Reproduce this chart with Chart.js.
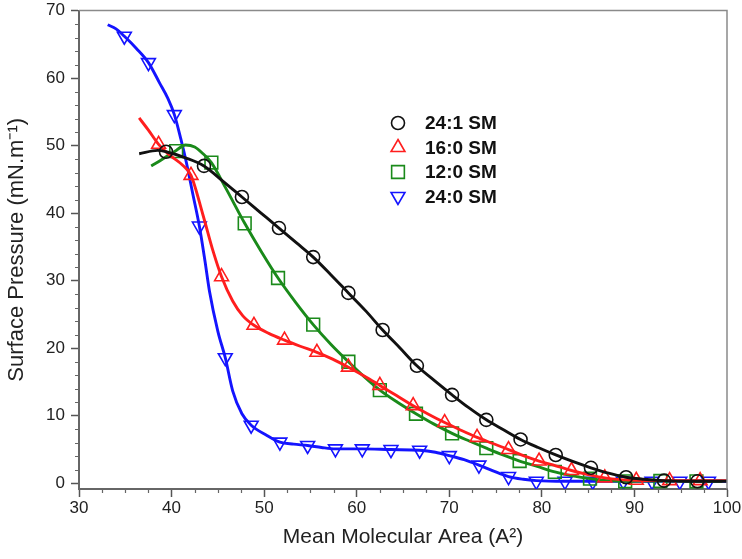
<!DOCTYPE html>
<html>
<head>
<meta charset="utf-8">
<script src="https://cdn.jsdelivr.net/npm/chart.js@4.4.1/dist/chart.umd.min.js"></script>
<style>
  html, body { margin: 0; padding: 0; background: #fff; }
  #wrap { width: 742px; height: 559px; }
</style>
</head>
<body>
<div id="wrap"><canvas id="c" width="742" height="559"></canvas></div>
<script>
// isotherms: area (A^2) vs surface pressure (mN/m)
const sm241X = [36.5, 38.5, 39.4, 41.5, 43.5, 45.5, 47.6, 49.6, 51.6, 53.5, 55.3, 57.2, 59.1, 61.0, 62.8, 64.7, 66.5, 68.4, 70.3, 72.1, 74.0, 75.9, 77.7, 79.6, 81.5, 83.4, 85.3, 87.2, 89.1, 91.0, 93.0, 96.5, 100];
const sm241Y = [48.8, 49.3, 49.1, 48.2, 47.0, 44.8, 42.4, 40.1, 37.8, 35.6, 33.5, 30.9, 28.2, 25.5, 22.7, 20.0, 17.4, 15.2, 13.1, 11.2, 9.4, 7.9, 6.5, 5.3, 4.2, 3.2, 2.3, 1.5, 0.9, 0.6, 0.4, 0.3, 0.3];
const sm241MarkX = [39.4, 43.5, 47.6, 51.6, 55.3, 59.1, 62.8, 66.5, 70.3, 74.0, 77.7, 81.5, 85.3, 89.1, 93.2, 96.8];
const sm241MarkY = [49.1, 47.0, 42.4, 37.8, 33.5, 28.2, 22.7, 17.4, 13.1, 9.4, 6.5, 4.2, 2.3, 0.9, 0.4, 0.3];

const sm160X = [36.5, 37.5, 38.6, 39.8, 41.2, 42.1, 43.4, 44.5, 45.4, 46.6, 47.7, 48.9, 50.5, 52.2, 53.9, 55.7, 57.4, 59.1, 60.8, 62.5, 64.3, 66.1, 67.8, 69.5, 71.2, 73.0, 74.7, 76.4, 78.0, 79.7, 81.5, 83.2, 85.0, 86.8, 88.5, 90.2, 93.8, 97.1, 100];
const sm160Y = [54.1, 52.3, 50.2, 48.6, 47.1, 45.6, 39.7, 34.3, 30.6, 27.0, 24.8, 23.4, 22.2, 21.2, 20.3, 19.4, 18.4, 17.2, 15.9, 14.5, 13.0, 11.5, 10.2, 9.0, 7.9, 6.8, 5.9, 5.0, 4.1, 3.3, 2.6, 1.9, 1.3, 0.8, 0.55, 0.45, 0.4, 0.4, 0.4];
const sm160MarkX = [38.6, 42.1, 45.4, 48.9, 52.2, 55.7, 59.1, 62.5, 66.1, 69.5, 73.0, 76.4, 79.7, 83.2, 86.8, 90.2, 93.8, 97.1];
const sm160MarkY = [50.2, 45.6, 30.6, 23.4, 21.2, 19.4, 17.2, 14.5, 11.5, 9.0, 6.8, 5.0, 3.3, 1.9, 0.8, 0.45, 0.4, 0.4];

const sm120X = [37.8, 39.0, 40.5, 41.5, 42.5, 43.4, 44.3, 45.9, 47.9, 49.7, 51.5, 53.4, 55.3, 57.2, 59.1, 60.8, 62.5, 64.4, 66.4, 68.3, 70.3, 72.1, 74.0, 75.8, 77.6, 79.5, 81.4, 83.3, 85.2, 87.1, 89.0, 92.8, 96.7, 99.5];
const sm120Y = [47.0, 48.0, 49.3, 50.1, 49.8, 48.8, 47.5, 43.6, 38.5, 34.3, 30.4, 26.8, 23.5, 20.6, 18.0, 15.8, 13.8, 12.0, 10.3, 8.8, 7.4, 6.3, 5.2, 4.2, 3.3, 2.5, 1.7, 1.1, 0.7, 0.4, 0.3, 0.35, 0.3, 0.3];
const sm120MarkX = [40.5, 44.3, 47.9, 51.5, 55.3, 59.1, 62.5, 66.4, 70.3, 74.0, 77.6, 81.4, 85.2, 89.0, 92.8, 96.7];
const sm120MarkY = [49.2, 47.5, 38.5, 30.4, 23.5, 18.0, 13.8, 10.3, 7.4, 5.2, 3.3, 1.7, 0.7, 0.3, 0.35, 0.3];

const sm240X = [33.1, 34.0, 34.9, 36.2, 37.5, 38.7, 39.6, 40.3, 41.0, 41.6, 42.3, 43.0, 43.6, 44.1, 45.0, 45.8, 46.6, 47.6, 48.6, 50.3, 51.7, 53.2, 54.7, 56.2, 57.7, 60.6, 63.7, 66.8, 68.5, 70.0, 71.6, 73.2, 74.8, 76.4, 78.0, 79.4, 82.5, 85.5, 88.8, 91.9, 95.0, 98.0, 100];
const sm240Y = [67.9, 67.3, 66.2, 64.4, 62.3, 59.3, 57.0, 54.6, 51.0, 47.5, 42.8, 38.1, 33.0, 28.4, 22.5, 18.6, 13.7, 10.3, 8.6, 7.1, 6.1, 5.8, 5.6, 5.3, 5.1, 5.1, 5.0, 4.9, 4.6, 4.1, 3.5, 2.7, 1.8, 1.0, 0.6, 0.4, 0.3, 0.3, 0.3, 0.3, 0.3, 0.3, 0.3];
const sm240MarkX = [34.9, 37.5, 40.3, 43.0, 45.8, 48.6, 51.7, 54.7, 57.7, 60.6, 63.7, 66.8, 70.0, 73.2, 76.4, 79.4, 82.5, 85.5, 88.8, 91.9, 94.9, 98.0];
const sm240MarkY = [66.2, 62.3, 54.6, 38.1, 18.6, 8.6, 6.1, 5.6, 5.1, 5.1, 5.0, 4.9, 4.1, 2.7, 1.0, 0.3, 0.3, 0.3, 0.3, 0.3, 0.3, 0.3];

const yTicks = [0, 10, 20, 30, 40, 50, 60, 70];

function pts(xs, ys) {
  return xs.map((x, i) => ({ x: x, y: ys[i] }));
}

const series = [
  { label: '24:1 SM', color: '#111111', style: 'circle', r: 6.5, rot: 0, cx: sm241X, cy: sm241Y, mx: sm241MarkX, my: sm241MarkY },
  { label: '16:0 SM', color: '#ff1e1e', style: 'triangle', r: 8, rot: 0, cx: sm160X, cy: sm160Y, mx: sm160MarkX, my: sm160MarkY },
  { label: '12:0 SM', color: '#1a8a1a', style: 'rect', r: 9, rot: 0, cx: sm120X, cy: sm120Y, mx: sm120MarkX, my: sm120MarkY },
  { label: '24:0 SM', color: '#1414ff', style: 'triangle', r: 8, rot: 180, cx: sm240X, cy: sm240Y, mx: sm240MarkX, my: sm240MarkY }
];

const datasets = [];
series.forEach(s => {
  datasets.push({
    label: s.label,
    data: pts(s.cx, s.cy),
    borderColor: s.color,
    borderWidth: 2.9,
    pointRadius: 0,
    fill: false,
    cubicInterpolationMode: 'monotone'
  });
  datasets.push({
    label: s.label + ' markers',
    data: pts(s.mx, s.my),
    showLine: false,
    pointStyle: s.style,
    pointRotation: s.rot,
    pointRadius: s.r,
    pointBorderColor: s.color,
    pointBackgroundColor: 'rgba(0,0,0,0)',
    pointBorderWidth: 1.6
  });
});

// minor ticks, top/right frame and the in-plot legend
const extras = {
  id: 'extras',
  afterDraw(chart) {
    const ctx = chart.ctx;
    const a = chart.chartArea;
    const xs = chart.scales.x, ys = chart.scales.y;
    ctx.save();
    ctx.strokeStyle = '#666';
    ctx.lineWidth = 1.2;
    ctx.beginPath();
    for (let v = 30; v <= 100; v += 2.5) {
      if (v % 10 === 0) continue;
      const px = Math.round(xs.getPixelForValue(v)) + 0.5;
      ctx.moveTo(px, a.bottom);
      ctx.lineTo(px, a.bottom + 4);
    }
    for (let v = 0; v <= 70; v += 2) {
      if (v % 10 === 0) continue;
      const py = Math.round(ys.getPixelForValue(v)) + 0.5;
      ctx.moveTo(a.left, py);
      ctx.lineTo(a.left - 4, py);
    }
    ctx.stroke();

    ctx.strokeStyle = '#8a8a8a';
    ctx.lineWidth = 1.5;
    ctx.beginPath();
    ctx.moveTo(a.left, a.top);
    ctx.lineTo(a.right, a.top);
    ctx.lineTo(a.right, a.bottom);
    ctx.stroke();

    // legend
    const lx = 398, ly = 123, step = 24.5;
    ctx.font = 'bold 19px "Liberation Sans", Arial, sans-serif';
    ctx.textBaseline = 'middle';
    ctx.textAlign = 'left';
    series.forEach((s, i) => {
      const y = ly + i * step;
      ctx.strokeStyle = s.color;
      ctx.fillStyle = 'rgba(0,0,0,0)';
      ctx.lineWidth = 1.6;
      Chart.helpers.drawPoint(ctx, { pointStyle: s.style, radius: s.r, rotation: s.rot, borderWidth: 1.6 }, lx, y);
      ctx.fillStyle = '#111';
      ctx.fillText(s.label, 425, y + 1);
    });
    ctx.restore();
  }
};

new Chart(document.getElementById('c'), {
  type: 'line',
  data: { datasets: datasets },
  plugins: [extras],
  options: {
    responsive: false,
    animation: false,
    devicePixelRatio: 1,
    layout: { padding: { top: 7, right: 15, left: 0, bottom: 0 } },
    plugins: { legend: { display: false }, tooltip: { enabled: false } },
    scales: {
      x: {
        type: 'linear',
        min: 30,
        max: 100,
        afterFit(scale) { scale.height = 70; scale.paddingLeft = 0; scale.paddingRight = 0; },
        ticks: {
          stepSize: 10,
          padding: 1,
          color: '#222',
          font: { family: '"Liberation Sans", Arial, sans-serif', size: 17 }
        },
        grid: { drawOnChartArea: false, drawTicks: true, tickLength: 8, tickColor: '#555', tickWidth: 1.5 },
        border: { color: '#666', width: 2 },
        title: {
          display: true,
          text: 'Mean Molecular Area (A²)',
          color: '#222',
          padding: { top: 0, bottom: 9 },
          font: { family: '"Liberation Sans", Arial, sans-serif', size: 21 }
        }
      },
      y: {
        type: 'linear',
        min: -0.84,
        max: 70,
        afterBuildTicks(scale) { scale.ticks = yTicks.map(v => ({ value: v })); },
        afterFit(scale) { scale.width = 79; scale.paddingTop = 0; scale.paddingBottom = 0; },
        ticks: {
          padding: 6,
          color: '#222',
          font: { family: '"Liberation Sans", Arial, sans-serif', size: 17 }
        },
        grid: { drawOnChartArea: false, drawTicks: true, tickLength: 8, tickColor: '#555', tickWidth: 1.5 },
        border: { color: '#666', width: 2 },
        title: {
          display: true,
          text: 'Surface Pressure (mN.m⁻¹)',
          color: '#222',
          padding: { top: 4, bottom: 0 },
          font: { family: '"Liberation Sans", Arial, sans-serif', size: 22 }
        }
      }
    }
  }
});
</script>
</body>
</html>
